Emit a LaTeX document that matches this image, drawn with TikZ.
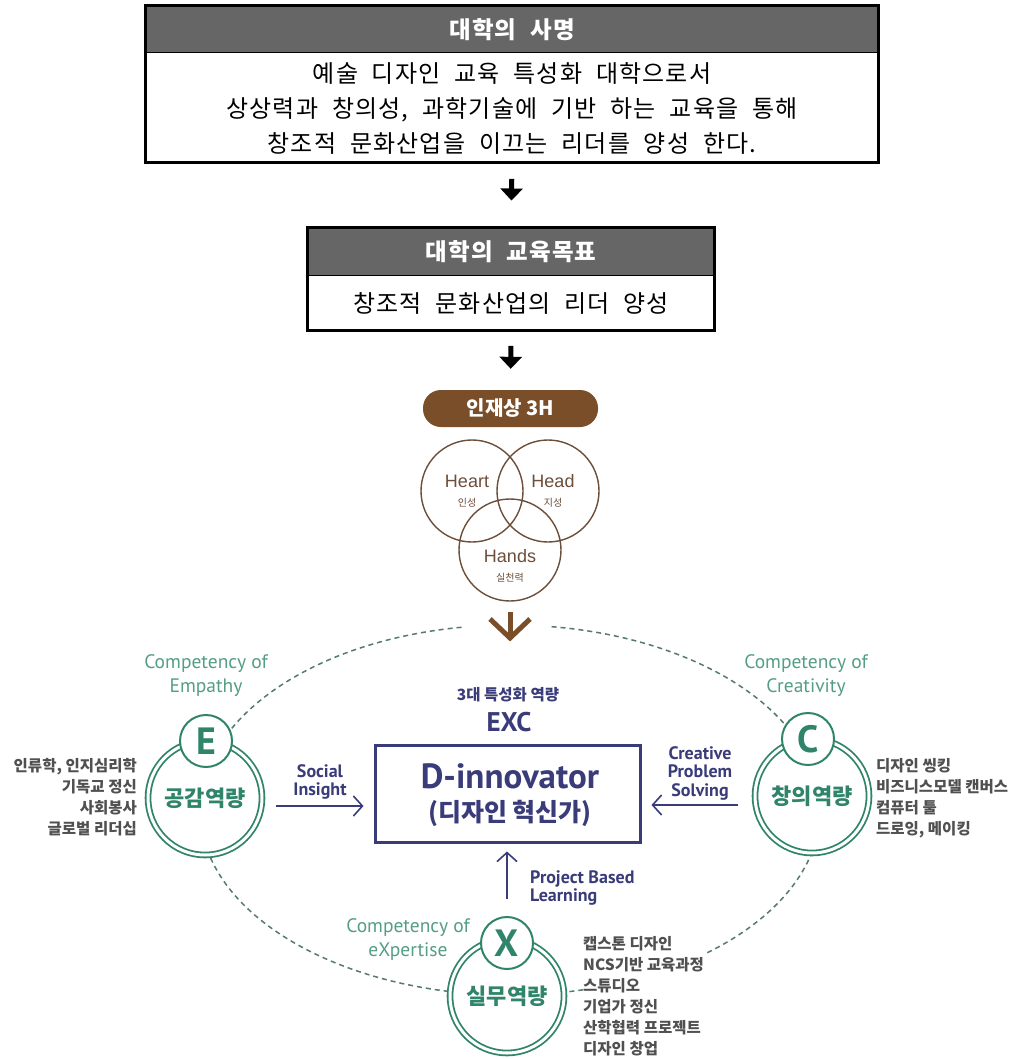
\documentclass[tikz,border=0pt]{standalone}
\usepackage{fontspec}
\setmainfont{Noto Sans CJK KR}
\newfontfamily\kr{Noto Sans CJK KR}
\newfontfamily\krw{Noto Sans CJK KR}[LetterSpace=5, WordSpace=2.1]
\newfontfamily\lat{PT Sans}
\newfontfamily\arl{Liberation Sans}
\usetikzlibrary{arrows.meta,calc}
\definecolor{hdrgray}{RGB}{102,102,102}
\definecolor{grn}{RGB}{48,132,106}
\definecolor{lgrn}{RGB}{84,158,132}
\definecolor{dashc}{RGB}{86,122,108}
\definecolor{navy}{RGB}{58,60,122}
\definecolor{pillbrown}{RGB}{122,78,40}
\definecolor{cbrown}{RGB}{108,78,58}
\definecolor{listgray}{RGB}{80,80,80}
\tikzset{
  hdr/.style={draw=black, line width=1pt, fill=hdrgray, text=white, minimum height=47pt, inner sep=0pt, font={\krw\bfseries\fontsize{23.5}{28}\selectfont}},
  bdy/.style={inner sep=0pt, align=center, font={\krw\fontsize{24}{35}\selectfont}},
  frame/.style={line width=3pt},
  blkarrow/.style={line width=5pt, -{Triangle[length=12pt,width=22pt]}},
  pillbox/.style={fill=pillbrown, rounded corners=18pt, minimum width=175pt, minimum height=37pt, inner sep=0pt, text=white, font={\kr\bfseries\fontsize{20}{22}\selectfont}},
  hcirc/.style={circle, draw=cbrown, line width=1.4pt, minimum size=102pt, inner sep=0pt},
  hname/.style={inner sep=0pt, text=cbrown, font={\arl\fontsize{18}{20}\selectfont}},
  hsub/.style={inner sep=0pt, text=cbrown, font={\kr\fontsize{10}{12}\selectfont}},
  brn/.style={draw=pillbrown, line width=5pt},
  dashline/.style={draw=dashc, line width=1.5pt, dash pattern=on 5pt off 4pt},
  ring/.style={circle, draw=grn, line width=1.8pt, double=white, double distance=3pt, fill=white, minimum size=114pt, inner sep=0pt, text=grn, font={\kr\bfseries\fontsize{22}{24}\selectfont}},
  smallc/.style={circle, draw=grn, line width=2pt, fill=white, minimum size=52pt, inner sep=0pt, text=grn, font={\lat\bfseries\fontsize{38}{40}\selectfont}},
  comp/.style={inner sep=0pt, align=center, text=lgrn, font={\lat\fontsize{19.5}{24}\selectfont}},
  navlbl/.style={inner sep=0pt, text=navy, font={\lat\bfseries\fontsize{18}{18.5}\selectfont}},
  navarr/.style={draw=navy, line width=1.6pt, -{Straight Barb[length=9pt,width=20pt]}},
  dbox/.style={draw=navy, line width=3pt, minimum width=265pt, minimum height=97pt, inner sep=0pt},
  listtxt/.style={inner sep=0pt, text=listgray, font={\kr\bfseries\fontsize{15.5}{21}\selectfont}},
}
\begin{document}
\begin{tikzpicture}[x=1pt,y=-1pt]
\useasboundingbox[fill=white] (0,0) rectangle (1018,1059);

% ---- mission box
\node[hdr, minimum width=732pt] (h1) at (512,29.5) {대학의 사명};
\node[bdy, minimum width=732pt, minimum height=109pt, anchor=north] (b1) at (h1.south)
  {예술 디자인 교육 특성화 대학으로서\\상상력과 창의성, 과학기술에 기반 하는 교육을 통해\\창조적 문화산업을 이끄는 리더를 양성 한다.};
\draw[frame] (h1.north west) rectangle (b1.south east);

% ---- goal box
\node[hdr, minimum width=406pt] (h2) at (511,251.5) {대학의 교육목표};
\node[bdy, minimum width=406pt, minimum height=55pt, anchor=north] (b2) at (h2.south) {창조적 문화산업의 리더 양성};
\draw[frame] (h2.north west) rectangle (b2.south east);

% ---- pill
\node[pillbox] (pill) at (510.5,408.5) {인재상 3H};

\draw[blkarrow, shorten <=16pt, shorten >=27pt] (b1.south) -- (h2.north);
\draw[blkarrow, shorten <=15pt, shorten >=21pt] (b2.south) -- (pill.north);

% ---- 3H circles
\node[hcirc] (heart) at (472,491) {};
\node[hcirc] (head) at (548,491) {};
\node[hcirc] (hands) at (510,550) {};
\node[hname] (heartT) at (467,481) {Heart};
\node[hsub] (heartS) at (467,503) {인성};
\node[hname] (headT) at (553,481) {Head};
\node[hsub] (headS) at (553,503) {지성};
\node[hname] (handsT) at (510,556) {Hands};
\node[hsub] (handsS) at (510,578) {실천력};

% ---- brown arrow
\coordinate (bt) at (510,638);
\draw[brn, shorten <=10pt] (hands.south) -- (bt);
\draw[brn, line join=miter] (490,619) -- (bt) -- (530,619);

% ---- dashed ellipse
\coordinate (ec) at (510,810);
\draw[dashline] ($(ec)+(99:310pt and 185pt)$) arc[start angle=99, end angle=443, x radius=310pt, y radius=185pt];

% ---- competency rings
\node[ring] (ringE) at (205,798) {공감역량};
\node[smallc] (Esm) at (206,741) {E};
\node[ring] (ringC) at (812,796) {창의역량};
\node[smallc] (Csm) at (808,739) {C};
\node[ring] (ringX) at (507,996) {실무역량};
\node[smallc] (Xsm) at (507,943) {X};

\node[comp] (compE) at (206,676) {Competency of\\Empathy};
\node[comp] (compC) at (806,676) {Competency of\\Creativity};
\node[comp] (compX) at (408,939) {Competency of\\eXpertise};

% ---- centre box
\node[dbox] (dbox) at (507.5,793.5) {};
\node[inner sep=0pt, text=navy, font={\lat\bfseries\fontsize{35}{36}\selectfont}] (dtitle) at (510,776) {D-innovator};
\node[inner sep=0pt, text=navy, font={\kr\bfseries\fontsize{25}{26}\selectfont}] (dsub) at (510,813) {(디자인 혁신가)};
\node[inner sep=0pt, text=navy, font={\kr\bfseries\fontsize{15.5}{17}\selectfont}] (tri) at (508,695) {3대 특성화 역량};
\node[inner sep=0pt, text=navy, font={\lat\bfseries\fontsize{27}{28}\selectfont}] (exc) at (509,722) {EXC};

% ---- navy arrows
\coordinate (siS) at ($(ringE.east)+(13,8)$);
\draw[navarr, shorten >=10pt] (siS) -- (siS -| dbox.west);
\node[navlbl, align=center] (silbl) at (320,782) {Social\\Insight};

\coordinate (cpS) at ($(ringC.west)+(-16,9)$);
\draw[navarr, shorten >=10pt] (cpS) -- (cpS -| dbox.east);
\node[navlbl, align=center] (cplbl) at (700,773) {Creative\\Problem\\Solving};

\draw[navarr, shorten <=17pt, shorten >=8pt] (Xsm.north) -- (Xsm.north |- dbox.south);
\node[navlbl, align=left, anchor=west] (pbl) at (530,888) {Project Based\\Learning};

% ---- lists
\node[listtxt, align=right, anchor=north east] (listE) at (137,758)
  {인류학, 인지심리학\\기독교 정신\\사회봉사\\글로벌 리더십};
\node[listtxt, align=left, anchor=north west] (listC) at (876,758)
  {디자인 씽킹\\비즈니스모델 캔버스\\컴퓨터 툴\\드로잉, 메이킹};
\node[listtxt, fill=white, align=left, anchor=north west] (listX) at (583,936)
  {캡스톤 디자인\\NCS기반 교육과정\\스튜디오\\기업가 정신\\산학협력 프로젝트\\디자인 창업};
\end{tikzpicture}
\end{document}
